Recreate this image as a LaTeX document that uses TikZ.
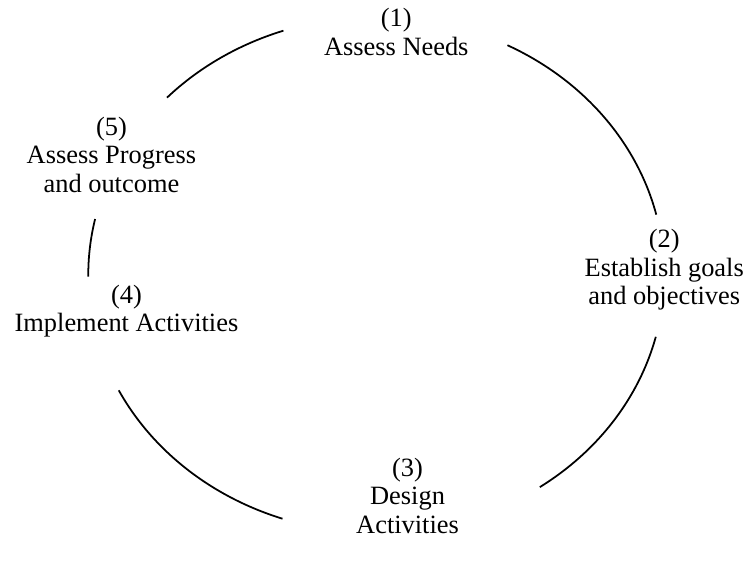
\documentclass[tikz,border=0pt]{standalone}
\usepackage{fontspec}
\setmainfont{Liberation Serif}
\usepackage{tikz}

\begin{document}
\begin{tikzpicture}[thick]
\tikzstyle{stage}=[align=center,font=\fontsize{12}{13}\selectfont,inner sep=1pt]
\useasboundingbox (-6.01,-4.70) rectangle (5.89,4.39);

\node [stage] (needs) at (0.32,3.88) {(1)\\Assess Needs};
\node [stage] (goals) at (4.60,0.08) {(2)\\Establish goals\\and objectives};
\node [stage] (design) at (0.50,-3.53) {(3)\\Design\\Activities};
\node [stage] (implement) at (-3.99,-0.58) {(4)\\Implement Activities};
\node [stage] (progress) at (-4.23,1.92) {(5)\\Assess Progress\\and outcome};

% arcs of the cycle, left open where the labels sit
\foreach \name/\s/\e in {ab/108.8/136.6, bc/13.5/62.9, cd/-55.4/-13.9, de/-153.4/-109, ea/167.5/180.4}
{
  \coordinate (\name) at (\s:4.6cm and 4.12cm);
  \draw (\name) arc[start angle=\s,end angle=\e,x radius=4.6cm,y radius=4.12cm];
}
\end{tikzpicture}
\end{document}
